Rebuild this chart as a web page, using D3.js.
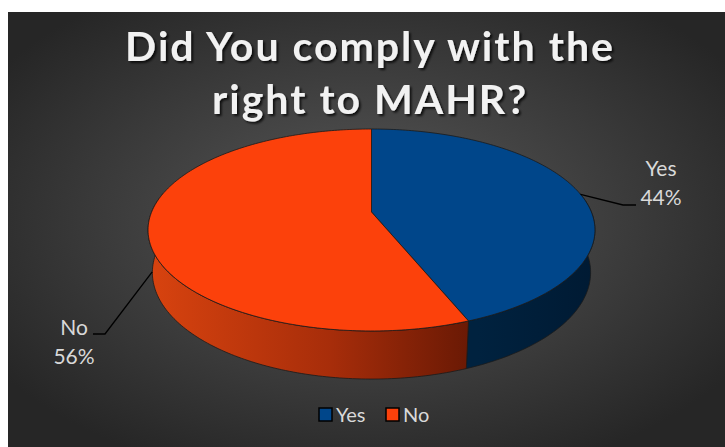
<!DOCTYPE html>
<html lang="en">
<head>
  <meta charset="UTF-8">
  <title>MAHR</title>
  <script src="https://d3js.org/d3.v7.min.js"></script>
  <style>
    body { margin: 0; background: #fff; }
    text { font-family: Lato, "Open Sans", sans-serif; }
  </style>
</head>
<body>
  <div class="canvas"></div>
  <script>
    const categories = ['Yes', 'No'];
    const values = [44, 56];
    const pctLabels = ['44%', '56%'];
    const titleLines = ['Did You comply with the', 'right to MAHR?'];

    const topColors = ['#00468a', '#fc410b'];
    const width = 725;
    const height = 447;

    const svg = d3.select('.canvas')
                  .append('svg')
                  .attr('width', width)
                  .attr('height', height);

    const defs = svg.append('defs');

    // background gradient
    const bg = defs.append('radialGradient')
                   .attr('id', 'bg')
                   .attr('cx', '50%').attr('cy', '48%').attr('r', '62%');
    bg.append('stop').attr('offset', '0%').attr('stop-color', '#595959');
    bg.append('stop').attr('offset', '100%').attr('stop-color', '#262626');

    // wall shading
    const redWall = defs.append('linearGradient')
                        .attr('id', 'redWall')
                        .attr('gradientUnits', 'userSpaceOnUse')
                        .attr('x1', 150).attr('x2', 478).attr('y1', 0).attr('y2', 0);
    redWall.append('stop').attr('offset', '0%').attr('stop-color', '#d8430f');
    redWall.append('stop').attr('offset', '55%').attr('stop-color', '#a72d0a');
    redWall.append('stop').attr('offset', '100%').attr('stop-color', '#661804');

    const blueWall = defs.append('linearGradient')
                         .attr('id', 'blueWall')
                         .attr('gradientUnits', 'userSpaceOnUse')
                         .attr('x1', 478).attr('x2', 595).attr('y1', 0).attr('y2', 0);
    blueWall.append('stop').attr('offset', '0%').attr('stop-color', '#00223f');
    blueWall.append('stop').attr('offset', '100%').attr('stop-color', '#001a33');

    const wallFills = ['url(#blueWall)', 'url(#redWall)'];

    const shadow = defs.append('filter').attr('id', 'shadow')
                       .attr('x', '-10%').attr('y', '-20%').attr('width', '120%').attr('height', '150%');
    shadow.append('feDropShadow')
          .attr('dx', 2).attr('dy', 2).attr('stdDeviation', 1.2)
          .attr('flood-color', '#000').attr('flood-opacity', 0.75);

    svg.append('rect')
       .attr('x', 8).attr('y', 12)
       .attr('width', width - 8).attr('height', height - 12)
       .attr('fill', 'url(#bg)');

    // title
    svg.append('g')
       .attr('filter', 'url(#shadow)')
       .selectAll('text')
       .data(titleLines)
       .join('text')
       .attr('x', 370)
       .attr('y', (d, i) => 61 + i * 53)
       .attr('text-anchor', 'middle')
       .attr('fill', '#f2f2f2')
       .style('font-size', '41px')
       .style('font-weight', 'bold')
       .style('letter-spacing', '2px')
       .text(d => d);

    // perspective projection for the 3D pie
    const cx = 371.5, cy = 212;
    const F = 1106, D = 5.03;
    const sinT = 0.4447, cosT = 0.8957;
    const depthH = 0.217;

    function proj(theta, r, y) {
      const x = r * Math.sin(theta);
      const z = -r * Math.cos(theta);
      const d = D - y * sinT - z * cosT;
      return [cx + F * x / d, cy + F * (z * sinT - y * cosT) / d];
    }

    const arcs = d3.pie().sort(null).value(d => d)(values);
    const line = d3.line();

    function arcPoints(a, y) {
      const n = Math.max(8, Math.ceil((a.endAngle - a.startAngle) * 60));
      return d3.range(n + 1).map(i => {
        const t = a.startAngle + (a.endAngle - a.startAngle) * i / n;
        return proj(t, 1, y);
      });
    }

    const pie = svg.append('g');

    // outer walls (only the front half is visible)
    pie.selectAll('path.wall')
       .data(arcs)
       .join('path')
       .attr('class', 'wall')
       .attr('d', a => {
         const s = Math.max(a.startAngle, Math.PI / 2 - 0.2);
         const e = Math.min(a.endAngle, 3 * Math.PI / 2 + 0.2);
         const seg = { startAngle: s, endAngle: e };
         const topPts = arcPoints(seg, 0);
         const botPts = arcPoints(seg, -depthH).reverse();
         return line(topPts.concat(botPts)) + 'Z';
       })
       .attr('fill', (a, i) => wallFills[i])
       .attr('stroke', '#1a1a1a')
       .attr('stroke-width', 0.8)
       .attr('stroke-linejoin', 'round');

    // top faces
    pie.selectAll('path.top')
       .data(arcs)
       .join('path')
       .attr('class', 'top')
       .attr('d', a => line([proj(0, 0, 0)].concat(arcPoints(a, 0))) + 'Z')
       .attr('fill', (a, i) => topColors[i])
       .attr('stroke', '#1a1a1a')
       .attr('stroke-width', 0.8)
       .attr('stroke-linejoin', 'round');

    // data labels with leader lines
    const labelPos = [
      { x: 661, y: 176, elbow: [[623, 205], [636, 205]], anchorY: 0 },
      { x: 74, y: 335, elbow: [[105, 334], [93, 334]], anchorY: -depthH * 0.95 }
    ];

    const labels = svg.append('g');
    labels.selectAll('path')
          .data(arcs)
          .join('path')
          .attr('d', (a, i) => {
            const mid = (a.startAngle + a.endAngle) / 2;
            return line([proj(mid, 1, labelPos[i].anchorY)].concat(labelPos[i].elbow));
          })
          .attr('fill', 'none')
          .attr('stroke', '#000')
          .attr('stroke-width', 1.3);

    const lbl = labels.selectAll('text')
          .data(arcs)
          .join('text')
          .attr('text-anchor', 'middle')
          .attr('fill', '#d9d9d9')
          .style('font-size', '21px');
    lbl.append('tspan')
       .attr('x', (a, i) => labelPos[i].x)
       .attr('y', (a, i) => labelPos[i].y)
       .text((a, i) => categories[i]);
    lbl.append('tspan')
       .attr('x', (a, i) => labelPos[i].x)
       .attr('y', (a, i) => labelPos[i].y + 29)
       .text((a, i) => pctLabels[i]);

    // legend
    const legend = svg.append('g');
    const legendX = d3.scalePoint().domain(categories).range([319, 386]);
    const item = legend.selectAll('g')
          .data(categories)
          .join('g')
          .attr('transform', d => `translate(${legendX(d)}, 408)`);
    item.append('rect')
        .attr('width', 13).attr('height', 13)
        .attr('fill', (d, i) => topColors[i])
        .attr('stroke', '#000')
        .attr('stroke-width', 1.5);
    item.append('text')
        .attr('x', 17).attr('y', 14)
        .attr('fill', '#d9d9d9')
        .style('font-size', '20px')
        .text(d => d);
  </script>
</body>
</html>
